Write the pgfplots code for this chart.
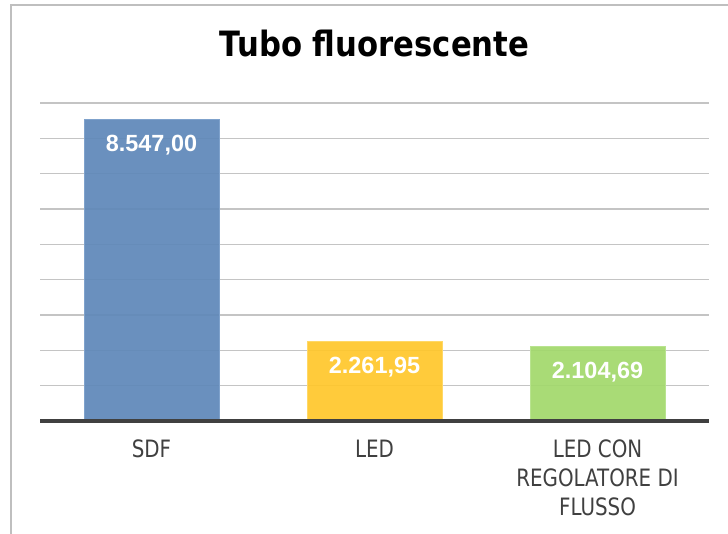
\documentclass[border=0pt]{standalone}
\usepackage{pgfplots}
\pgfplotsset{compat=1.18}
\usepackage{fontspec}
\newfontfamily\titlefont{DejaVu Sans}[FakeStretch=0.88]
\newfontfamily\tickfont{DejaVu Sans}[FakeStretch=0.83]
\newfontfamily\labelfont{Liberation Sans}
\definecolor{barblue}{HTML}{5F88B9}
\definecolor{baryellow}{HTML}{FFC72C}
\definecolor{bargreen}{HTML}{A2D86C}
\definecolor{edgeblue}{HTML}{7FA2CC}
\definecolor{edgeyellow}{HTML}{FFD866}
\definecolor{edgegreen}{HTML}{B8E38F}
\definecolor{gridgray}{HTML}{C4C4C4}
\definecolor{framegray}{HTML}{BFBFBF}
\definecolor{textgray}{HTML}{404040}
\begin{document}
\begin{tikzpicture}[x=1bp,y=1bp]
\useasboundingbox (-40,-113) rectangle (688,421);
\draw[framegray, line width=2bp] (-29,-114) -- (-29,416) -- (689,416);
\begin{axis}[
  at={(0,0)}, anchor=south west,
  scale only axis,
  width=669bp, height=318bp,
  xmin=-0.5, xmax=2.5,
  ymin=0, ymax=9000,
  axis line style={draw=none},
  ytick={1000,2000,...,9000},
  yticklabels={},
  ymajorgrids,
  grid style={gridgray, line width=1.2bp},
  major tick length=0pt,
  xtick={0,1,2},
  xticklabels={SDF, LED, {LED CON\\REGOLATORE DI\\FLUSSO}},
  xticklabel style={align=center, inner sep=0pt, anchor=north, yshift=-19bp,
    font=\tickfont\fontsize{24}{29}\selectfont, text=textgray},
  title={\titlefont\bfseries\fontsize{35}{40}\selectfont Tubo fluorescente},
  title style={at={(rel axis cs:0.5,1)}, anchor=center, yshift=54bp, inner sep=0pt},
  ybar, bar width=135bp,
  point meta=explicit symbolic,
  nodes near coords,
  every node near coord/.style={anchor=center, yshift=-26bp, text=white,
    font=\labelfont\bfseries\fontsize{23.5}{28}\selectfont},
  clip=false,
]
\addplot[bar shift=0pt, fill=barblue, fill opacity=0.93, draw=edgeblue, line width=1bp, text opacity=1]
  coordinates {(0,8547.00) [8.547,00]};
\addplot[bar shift=0pt, fill=baryellow, fill opacity=0.93, draw=edgeyellow, line width=1bp, text opacity=1]
  coordinates {(1,2261.95) [2.261,95]};
\addplot[bar shift=0pt, fill=bargreen, fill opacity=0.93, draw=edgegreen, line width=1bp, text opacity=1]
  coordinates {(2,2104.69) [2.104,69]};
\draw[textgray, line width=3.3bp] (rel axis cs:0,0) -- (rel axis cs:1,0);
\end{axis}
\end{tikzpicture}
\end{document}
